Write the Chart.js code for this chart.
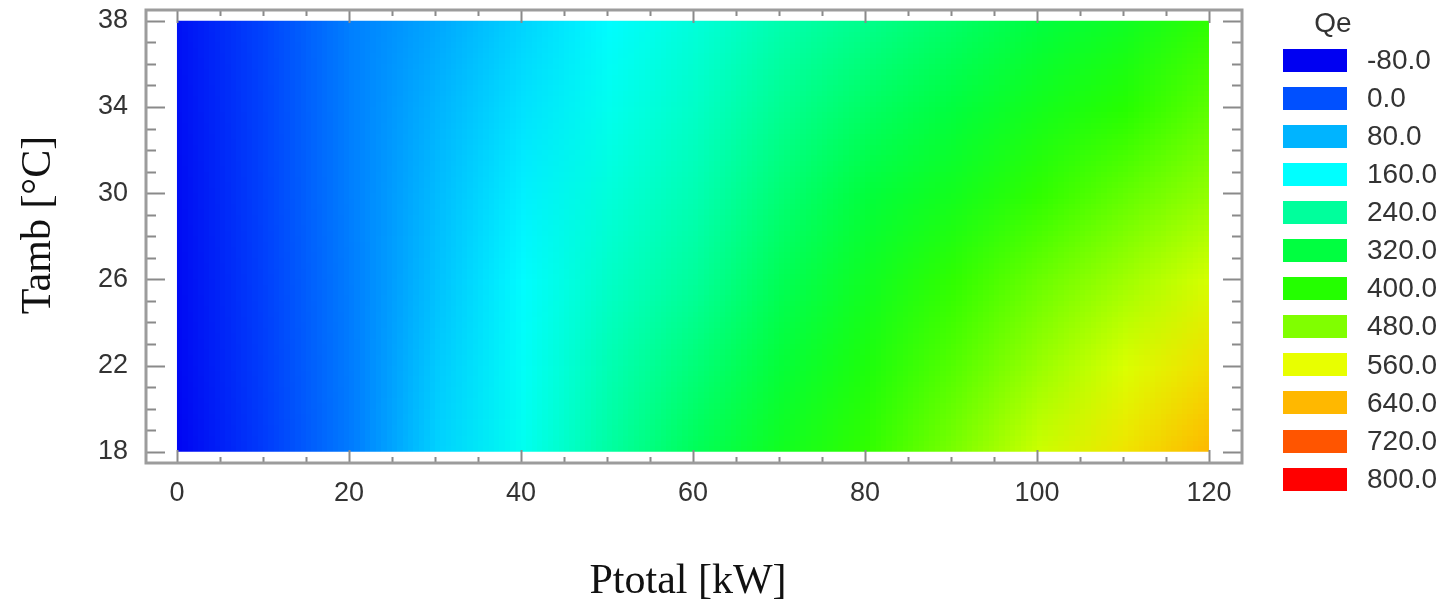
<!DOCTYPE html>
<html>
<head>
<meta charset="utf-8">
<script src="https://cdn.jsdelivr.net/npm/chart.js@4.4.1/dist/chart.umd.min.js"></script>
<style>
  html, body { margin: 0; padding: 0; background: #fff; }
  #wrap { width: 1449px; height: 610px; }
</style>
</head>
<body>
<div id="wrap"><canvas id="qe-chart" width="1449" height="610"></canvas></div>
<script>
/* ====== Qe contour map : Ptotal vs Tamb ====== */
'use strict';

// grid (columns = Ptotal, rows = Tamb)
const pTotal = [0, 10, 20, 30, 40, 50, 60, 70, 80, 90, 100, 110, 120];
const tAmb = [18, 22, 26, 30, 34, 38];

const qeT18 = [-74, -20, 35, 112, 172, 236, 300, 360, 412, 476, 540, 592, 642];
const qeT22 = [-70, -17, 36, 104, 166, 222, 272, 330, 385, 442, 500, 550, 600];
const qeT26 = [-68, -15, 37, 95, 158, 205, 242, 302, 356, 410, 462, 505, 548];
const qeT30 = [-66, -13, 38, 88, 145, 190, 222, 276, 325, 362, 410, 455, 496];
const qeT34 = [-64, -12, 38, 80, 130, 174, 205, 250, 290, 322, 365, 402, 450];
const qeT38 = [-62, -11, 38, 70, 115, 158, 190, 226, 256, 288, 322, 356, 410];
const qeRows = [qeT18, qeT22, qeT26, qeT30, qeT34, qeT38];

const xTicks = [0, 20, 40, 60, 80, 100, 120];
const yTicks = [18, 22, 26, 30, 34, 38];

// colour key
const qeLevels = [-80, 0, 80, 160, 240, 320, 400, 480, 560, 640, 720, 800];
const qeColors = ['#0000f2', '#0050ff', '#00b4ff', '#00ffff', '#00ff9c', '#00ff40',
                  '#24ff00', '#80ff00', '#e8ff00', '#ffb800', '#ff5500', '#ff0000'];

const SANS = '"Liberation Sans", Arial, sans-serif';
const SERIF = '"Liberation Serif", "Times New Roman", serif';

function hexToRgb(hex) {
  const n = parseInt(hex.slice(1), 16);
  return [(n >> 16) & 255, (n >> 8) & 255, n & 255];
}

function qeToRgb(v) {
  if (v <= qeLevels[0]) return hexToRgb(qeColors[0]);
  for (let i = 1; i < qeLevels.length; i++) {
    if (v <= qeLevels[i]) {
      const t = (v - qeLevels[i - 1]) / (qeLevels[i] - qeLevels[i - 1]);
      const a = hexToRgb(qeColors[i - 1]), b = hexToRgb(qeColors[i]);
      return a.map((c, k) => Math.round(c + (b[k] - c) * t));
    }
  }
  return hexToRgb(qeColors[qeColors.length - 1]);
}

// one pixel per grid value, the browser smooths it when scaled up
let gridImage = null;
function buildGridImage() {
  const off = document.createElement('canvas');
  off.width = pTotal.length;
  off.height = tAmb.length;
  const octx = off.getContext('2d');
  const img = octx.createImageData(off.width, off.height);
  tAmb.forEach((t, r) => {
    const row = tAmb.length - 1 - r; // top of image = highest Tamb
    qeRows[r].forEach((v, c) => {
      const [R, G, B] = qeToRgb(v);
      const k = (row * off.width + c) * 4;
      img.data[k] = R; img.data[k + 1] = G; img.data[k + 2] = B; img.data[k + 3] = 255;
    });
  });
  octx.putImageData(img, 0, 0);
  return off;
}

const heatmapPlugin = {
  id: 'heatmap',
  beforeDatasetsDraw(chart) {
    const { ctx, scales: { x, y } } = chart;
    if (!gridImage) gridImage = buildGridImage();
    const hx = (pTotal[1] - pTotal[0]) / 2;
    const hy = (tAmb[1] - tAmb[0]) / 2;
    const x0 = x.getPixelForValue(pTotal[0]), x1 = x.getPixelForValue(pTotal[pTotal.length - 1]);
    const y0 = y.getPixelForValue(tAmb[tAmb.length - 1]), y1 = y.getPixelForValue(tAmb[0]);
    const left = x.getPixelForValue(pTotal[0] - hx);
    const right = x.getPixelForValue(pTotal[pTotal.length - 1] + hx);
    const top = y.getPixelForValue(tAmb[tAmb.length - 1] + hy);
    const bottom = y.getPixelForValue(tAmb[0] - hy);
    ctx.save();
    ctx.beginPath();
    ctx.rect(x0, y0, x1 - x0, y1 - y0);
    ctx.clip();
    ctx.imageSmoothingEnabled = true;
    ctx.imageSmoothingQuality = 'low';
    ctx.drawImage(gridImage, left, top, right - left, bottom - top);
    ctx.restore();
  }
};

// grey box with inward tick marks on all four sides
const framePlugin = {
  id: 'frame',
  afterDraw(chart) {
    const { ctx, chartArea: a, scales: { x, y } } = chart;
    ctx.save();
    ctx.strokeStyle = '#8a8a8a';
    ctx.lineWidth = 2;
    for (let v = 0; v <= 120; v += 5) {
      const px = Math.round(x.getPixelForValue(v)) + 0.5;
      const len = v % 20 === 0 ? 13 : 6;
      ctx.beginPath();
      ctx.moveTo(px, a.bottom); ctx.lineTo(px, a.bottom - len);
      ctx.moveTo(px, a.top); ctx.lineTo(px, a.top + len);
      ctx.stroke();
    }
    for (let v = 18; v <= 38; v += 1) {
      const py = Math.round(y.getPixelForValue(v)) + 0.5;
      const len = (v - 18) % 4 === 0 ? 19 : 10;
      ctx.beginPath();
      ctx.moveTo(a.left, py); ctx.lineTo(a.left + len, py);
      ctx.moveTo(a.right, py); ctx.lineTo(a.right - len, py);
      ctx.stroke();
    }
    ctx.strokeStyle = '#9c9c9c';
    ctx.lineWidth = 3;
    ctx.strokeRect(a.left, a.top, a.right - a.left, a.bottom - a.top);
    ctx.restore();
  }
};

const titlesPlugin = {
  id: 'axisTitles',
  afterDraw(chart) {
    const { ctx } = chart;
    ctx.save();
    ctx.fillStyle = '#111';
    ctx.font = `42px ${SERIF}`;
    ctx.textAlign = 'center';
    ctx.textBaseline = 'alphabetic';
    ctx.fillText('Ptotal [kW]', 688, 593);
    ctx.translate(50, 225);
    ctx.rotate(-Math.PI / 2);
    ctx.fillText('Tamb [°C]', 0, 0);
    ctx.restore();
  }
};

const keyPlugin = {
  id: 'qeKey',
  afterDraw(chart) {
    const { ctx } = chart;
    ctx.save();
    ctx.fillStyle = '#333';
    ctx.font = `28px ${SANS}`;
    ctx.textAlign = 'center';
    ctx.textBaseline = 'middle';
    ctx.fillText('Qe', 1333, 24);
    ctx.textAlign = 'left';
    qeLevels.forEach((lv, i) => {
      const cy = 60 + i * 38.1;
      ctx.fillStyle = qeColors[i];
      ctx.fillRect(1283, Math.round(cy - 11.5), 64, 23);
      ctx.fillStyle = '#333';
      ctx.fillText(lv.toFixed(1), 1367, cy + 1);
    });
    ctx.restore();
  }
};

// points only feed the scales; the cells are painted by heatmapPlugin
const gridPoints = [];
tAmb.forEach((t, r) => pTotal.forEach((p, c) => gridPoints.push({ x: p, y: t, v: qeRows[r][c] })));

Chart.defaults.font.family = SANS;

new Chart(document.getElementById('qe-chart'), {
  type: 'scatter',
  data: { datasets: [{ label: 'Qe', data: gridPoints, pointRadius: 0, pointHoverRadius: 0 }] },
  options: {
    responsive: false,
    animation: false,
    layout: { padding: { top: 10, right: 207, left: 0, bottom: 0 } },
    plugins: { legend: { display: false }, tooltip: { enabled: false } },
    scales: {
      x: {
        type: 'linear', min: -3.6, max: 123.84,
        grid: { display: false, drawTicks: false }, border: { display: false },
        afterBuildTicks: s => { s.ticks = xTicks.map(v => ({ value: v })); },
        afterFit: s => { s.height = 147; s.paddingLeft = 0; s.paddingRight = 0; },
        ticks: { color: '#333', font: { size: 27 }, padding: 14, maxRotation: 0, autoSkip: false }
      },
      y: {
        type: 'linear', min: 17.476, max: 38.5,
        grid: { display: false, drawTicks: false }, border: { display: false },
        afterBuildTicks: s => { s.ticks = yTicks.map(v => ({ value: v })); },
        afterFit: s => { s.width = 146; s.paddingTop = 0; s.paddingBottom = 0; },
        ticks: { color: '#333', font: { size: 27 }, padding: 18, autoSkip: false }
      }
    }
  },
  plugins: [heatmapPlugin, framePlugin, titlesPlugin, keyPlugin]
});
</script>
</body>
</html>
